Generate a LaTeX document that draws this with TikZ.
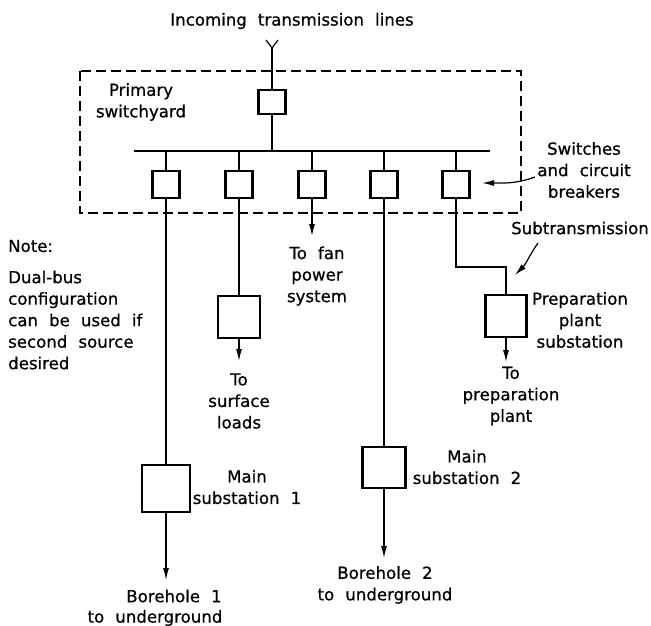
\documentclass[tikz,border=0pt]{standalone}
\usepackage{fontspec}
\setmainfont{DejaVu Sans}[WordSpace=2.1,FakeBold=0.7]
\usetikzlibrary{arrows.meta}
\begin{document}
\begin{tikzpicture}[>={Latex[length=12pt,width=6pt]},x=1pt,y=-1pt,
	font=\fontsize{16.6}{21.5}\selectfont,
	sw/.style={draw,line width=2.2pt,minimum width=27pt,minimum height=27pt,inner sep=0pt},
	sub/.style={draw,line width=2.2pt,inner sep=0pt},
	wire/.style={line width=1.2pt},
	txt/.style={align=center,inner sep=0pt}]
	\useasboundingbox (0,0) rectangle (651,626);
	% khung tram phan phoi chinh
	\draw[line width=1.8pt,dash pattern=on 10pt off 5pt] (80,71) rectangle (521,213);
	\node[txt] (title) at (292,21) {Incoming transmission lines};
	\coordinate (ant) at (272,48);
	\draw[wire] (266,40) -- (ant) -- (278,40);
	\node[sw,minimum height=24pt] (main) at (272,102) {};
	\draw[wire] (ant) -- (main);
	\coordinate (busL) at (134,151);
	\coordinate (busR) at (490,151);
	\draw[wire] (busL) -- (busR);
	\draw[wire] (main) -- (main |- busL);
	\foreach \n/\x in {1/166,2/239,3/312,4/384,5/456} {
		\node[sw] (s\n) at (\x,184.5) {};
		\draw[wire] (s\n) -- (s\n |- busL);
	}
	\node[txt] (lpri) at (141,102) {Primary\\switchyard};
	% cac tram bien ap
	\node[sub,minimum width=48pt,minimum height=47pt] (ms1) at (166,488.5) {};
	\node[sub,minimum width=42pt,minimum height=42pt] (sl) at (239,317) {};
	\node[sub,minimum width=43pt,minimum height=41pt] (ms2) at (384,467.5) {};
	\node[sub,minimum width=41pt,minimum height=42pt] (pp) at (506,316) {};
	\coordinate (bend) at (506,267);
	\draw[wire] (s1) -- (ms1);
	\draw[wire] (s2) -- (sl);
	\draw[wire] (s4) -- (ms2);
	\draw[wire] (s5.south) |- (bend) -- (pp);
	\coordinate (e1) at (166,580);
	\coordinate (e2) at (239,361);
	\coordinate (e3) at (312,236);
	\coordinate (e4) at (384,558);
	\coordinate (e5) at (506,362);
	\draw[wire,->] (ms1) -- (e1);
	\draw[wire,->] (sl) -- (e2);
	\draw[wire,->] (s3) -- (e3);
	\draw[wire,->] (ms2) -- (e4);
	\draw[wire,->] (pp) -- (e5);
	% nhan
	\node[txt] (tfan) at (317,276) {To fan\\power\\system};
	\node[txt] (tsl) at (239,401) {To\\surface\\loads};
	\node[txt] (tpp) at (511,396) {To\\preparation\\plant};
	\node[txt] (lms1) at (247,487) {Main\\substation 1};
	\node[txt] (lms2) at (467,467) {Main\\substation 2};
	\node[txt] (lpp) at (580,320) {Preparation\\plant\\substation};
	\node[txt] (lsw) at (584,170) {Switches\\and circuit\\breakers};
	\node[txt] (lsub) at (580,228) {Subtransmission};
	\node[anchor=west,inner sep=0pt] (note) at (8,246) {Note:};
	\node[anchor=west,align=left,inner sep=0pt] (notetxt) at (8,320) {Dual-bus\\configuration\\can be used if\\second source\\desired};
	\node[inner sep=0pt] (bh1) at (174,596) {Borehole 1};
	\node[inner sep=0pt] (bh1b) at (155,618) {to underground};
	\node[txt] (bh2) at (385,585) {Borehole 2\\to underground};
	% mui ten chu thich
	\coordinate (swA) at (535,177);
	\coordinate (subA) at (538,243);
	\draw[wire,->] (swA) to[out=200,in=0] (482,183);
	\draw[wire,->] (subA) to[out=235,in=45] (515,275);
\end{tikzpicture}
\end{document}
